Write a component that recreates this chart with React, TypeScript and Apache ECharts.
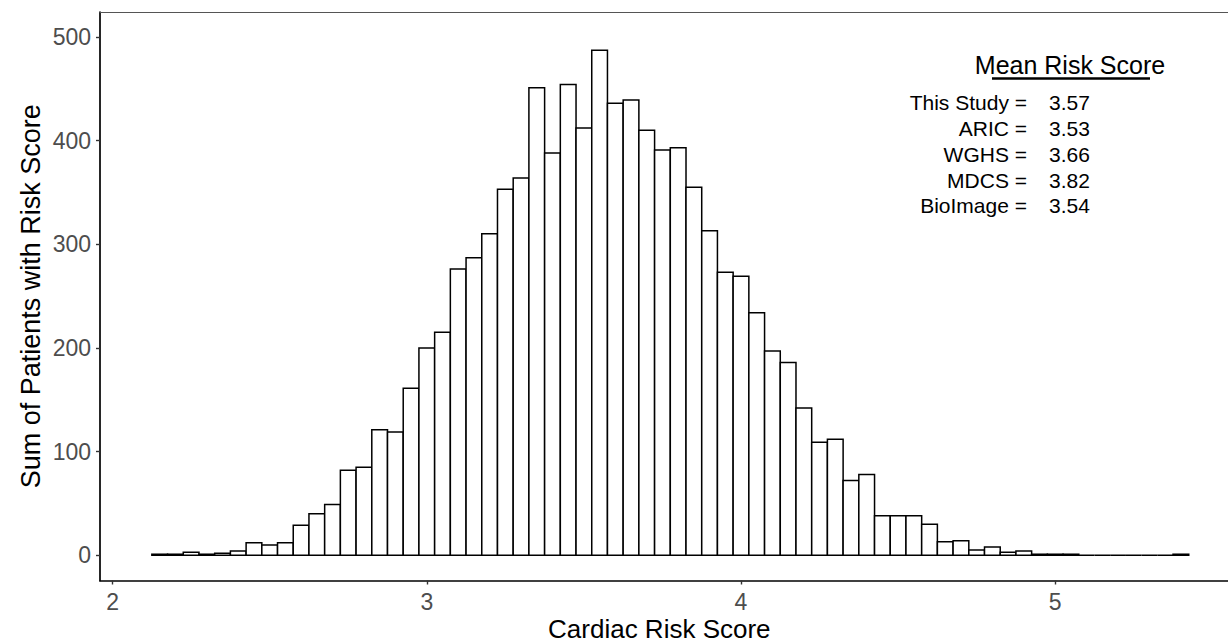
import React, { useEffect, useRef } from "react";
import * as echarts from "echarts";

// Histogram: bin width 0.05, first bin centre 2.15
const binStart = 2.15;
const binWidth = 0.05;
const counts = [
  1, 1, 3, 1, 2, 4, 12, 10, 12, 29, 40, 49, 82, 85, 121, 119, 161, 200, 215,
  276, 287, 310, 353, 364, 451, 388, 454, 412, 487, 436, 439, 410, 391, 393,
  355, 313, 273, 269, 234, 197, 186, 142, 109, 112, 72, 78, 38, 38, 38, 30,
  13, 14, 5, 8, 3, 4, 1, 1, 1, 0, 0, 0, 0, 0, 0, 1,
];

const xTicks = [2, 3, 4, 5];
const yTicks = [0, 100, 200, 300, 400, 500];

const studyNames = ["This Study =", "ARIC =", "WGHS =", "MDCS =", "BioImage ="];
const studyMeans = ["3.57", "3.53", "3.66", "3.82", "3.54"];

const FONT = "'Liberation Sans', Arial, Helvetica, sans-serif";

export default function App() {
  const ref = useRef<HTMLDivElement>(null);

  useEffect(() => {
    if (!ref.current) return;
    const chart = echarts.init(ref.current, undefined, { renderer: "svg" });

    const data = counts.map((c, i) => [binStart + i * binWidth, c]);

    const rowY = [102, 128, 154, 180, 205.5];
    const graphics: any[] = [
      {
        type: "text",
        x: 1070,
        y: 65,
        style: {
          text: "Mean Risk Score",
          font: `25px ${FONT}`,
          fill: "#000",
          align: "center",
          verticalAlign: "middle",
        },
      },
      {
        type: "line",
        shape: { x1: 992, y1: 78.5, x2: 1150, y2: 78.5 },
        style: { stroke: "#000", lineWidth: 2.6 },
      },
    ];
    studyNames.forEach((n, i) => {
      graphics.push({
        type: "text",
        x: 1027,
        y: rowY[i],
        style: {
          text: n,
          font: `21px ${FONT}`,
          fill: "#000",
          align: "right",
          verticalAlign: "middle",
        },
      });
      graphics.push({
        type: "text",
        x: 1049,
        y: rowY[i],
        style: {
          text: studyMeans[i],
          font: `21px ${FONT}`,
          fill: "#000",
          align: "left",
          verticalAlign: "middle",
        },
      });
    });

    chart.setOption({
      animation: false,
      backgroundColor: "#fff",
      grid: {
        left: 100,
        top: 12,
        width: 1140.6,
        height: 568.5,
        containLabel: false,
        outerBoundsMode: "none",
      },
      xAxis: [
        {
          type: "value",
          min: 1.96,
          max: 5.59,
          name: "Cardiac Risk Score",
          nameLocation: "middle",
          nameGap: 35,
          nameMoveOverlap: false,
          nameTextStyle: {
            fontFamily: FONT,
            fontSize: 26,
            lineHeight: 26,
            color: "#000",
            padding: [0, 22, 0, 0],
          },
          axisLine: { show: true, onZero: false, lineStyle: { color: "#000", width: 1.7 } },
          axisTick: {
            show: true,
            customValues: xTicks,
            length: 4,
            lineStyle: { color: "#333", width: 1.4 },
          },
          axisLabel: {
            customValues: xTicks,
            fontFamily: FONT,
            fontSize: 23,
            lineHeight: 22,
            color: "#4D4D4D",
            margin: 10,
          },
          splitLine: { show: false },
        },
        {
          type: "value",
          position: "top",
          min: 1.96,
          max: 5.59,
          axisLine: { show: true, onZero: false, lineStyle: { color: "#555", width: 1.2 } },
          axisTick: { show: false },
          axisLabel: { show: false },
          splitLine: { show: false },
        },
      ],
      yAxis: {
        type: "value",
        min: -24.35,
        max: 524,
        name: "Sum of Patients with Risk Score",
        nameLocation: "middle",
        nameGap: 56,
        nameMoveOverlap: false,
        nameTextStyle: { fontFamily: FONT, fontSize: 27, color: "#000" },
        axisLine: { show: true, onZero: false, lineStyle: { color: "#000", width: 1.7 } },
        axisTick: {
          show: true,
          customValues: yTicks,
          length: 4,
          lineStyle: { color: "#333", width: 1.4 },
        },
        axisLabel: {
          customValues: yTicks,
          fontFamily: FONT,
          fontSize: 23,
          color: "#4D4D4D",
          margin: 9,
        },
        splitLine: { show: false },
      },
      series: [
        {
          type: "custom",
          xAxisIndex: 0,
          yAxisIndex: 0,
          data,
          renderItem: (params: any, api: any) => {
            const c = api.value(0);
            const v = api.value(1);
            const p0 = api.coord([c - binWidth / 2, 0]);
            const p1 = api.coord([c + binWidth / 2, v]);
            return {
              type: "rect",
              shape: {
                x: p0[0],
                y: p1[1],
                width: p1[0] - p0[0],
                height: p0[1] - p1[1],
              },
              style: { fill: "#fff", stroke: "#000", lineWidth: 1.5 },
            };
          },
        },
      ],
      graphic: graphics,
    });

    return () => chart.dispose();
  }, []);

  return (
    <div
      ref={ref}
      style={{ position: "fixed", left: 0, top: 0, width: 1228, height: 642 }}
    />
  );
}
